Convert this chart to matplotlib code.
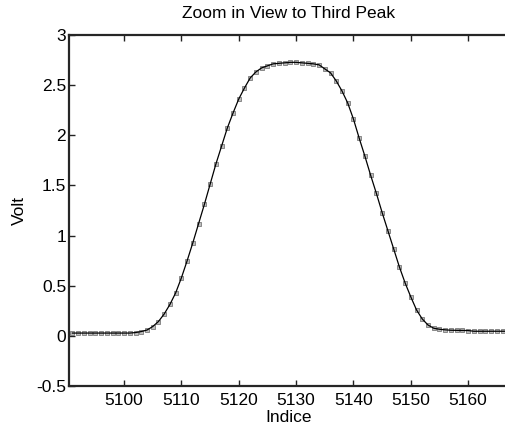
import matplotlib
matplotlib.use("Agg")
import matplotlib.pyplot as plt
import numpy as np
from matplotlib.ticker import FuncFormatter

plt.rcParams['font.family'] = ['Liberation Sans', 'DejaVu Sans']
plt.rcParams['axes.unicode_minus'] = False

start_index = 5091
volts = [
    0.03, 0.03, 0.03, 0.03, 0.03, 0.03, 0.03, 0.03, 0.03, 0.03,   # 5091-5100
    0.03, 0.035, 0.045, 0.06, 0.095, 0.145, 0.22, 0.315, 0.43, 0.58,  # 5101-5110
    0.75, 0.93, 1.12, 1.31, 1.51, 1.71, 1.89, 2.07, 2.22, 2.36,   # 5111-5120
    2.47, 2.57, 2.63, 2.67, 2.69, 2.71, 2.715, 2.72, 2.725, 2.725,  # 5121-5130
    2.72, 2.715, 2.71, 2.70, 2.66, 2.62, 2.54, 2.44, 2.32, 2.16,  # 5131-5140
    1.97, 1.79, 1.60, 1.42, 1.23, 1.05, 0.87, 0.69, 0.53, 0.39,   # 5141-5150
    0.26, 0.17, 0.11, 0.078, 0.068, 0.062, 0.058, 0.057, 0.056, 0.055,  # 5151-5160
    0.048, 0.048, 0.048, 0.048, 0.048, 0.048, 0.048,              # 5161-5167
]
indices = np.arange(start_index, start_index + len(volts))

x_ticks = [5100, 5110, 5120, 5130, 5140, 5150, 5160]
y_ticks = [-0.5, 0, 0.5, 1, 1.5, 2, 2.5, 3]

W, H = 506, 429
fig = plt.figure(figsize=(W / 100, H / 100), dpi=100)
ax = fig.add_axes([69 / W, (H - 386.3) / H, (506 - 69) / W + 0.004, (386.3 - 34.7) / H])

ax.plot(indices, volts, linestyle='none', marker='s', markersize=3.2,
        markerfacecolor='#bdbdbd', markeredgecolor='#7a7a7a', markeredgewidth=0.6)
ax.plot(indices, volts, color='black', linewidth=0.9)

ax.set_xlim(5090.4, 5166.6 + 0.004 * W / 5.739)
ax.set_ylim(-0.5, 3)
ax.set_xticks(x_ticks)
ax.set_yticks(y_ticks)
ax.yaxis.set_major_formatter(FuncFormatter(lambda v, p: ('%g' % v)))
ax.tick_params(direction='in', length=4, width=1, labelsize=12.5, top=True, right=False,
               color='#222222')
ax.tick_params(axis='x', pad=5)
ax.tick_params(axis='y', pad=2)
for s in ['left', 'bottom', 'top']:
    ax.spines[s].set_linewidth(1.6)
    ax.spines[s].set_color('#262626')
ax.spines['right'].set_visible(False)

ax.set_title('Zoom in View to Third Peak', fontsize=12.5, pad=12)
ax.set_xlabel('Indice', fontsize=12.5, labelpad=1)
ax.set_ylabel('Volt', fontsize=12.5, labelpad=7)

fig.savefig('out.png', dpi=100)
